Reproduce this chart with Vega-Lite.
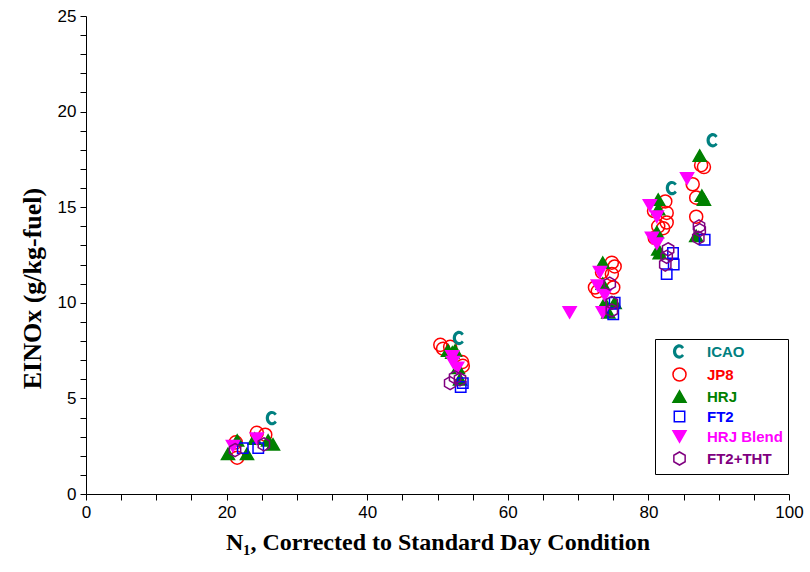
{
  "$schema": "https://vega.github.io/schema/vega-lite/v6.json",
  "width": 703,
  "height": 478,
  "autosize": {"type": "none"},
  "padding": {"left": 86, "top": 16, "right": 21, "bottom": 78},
  "background": "white",
  "config": {"view": {"stroke": null}},
  "data": {"values": [
    {"f":"JP8","x":21.3,"y":2.7},{"f":"JP8","x":21.5,"y":1.9},{"f":"JP8","x":24.3,"y":3.2},{"f":"JP8","x":25.5,"y":3.1},
    {"f":"JP8","x":50.4,"y":7.8},{"f":"JP8","x":50.8,"y":7.6},{"f":"JP8","x":51.8,"y":7.7},{"f":"JP8","x":53.5,"y":6.9},{"f":"JP8","x":53.6,"y":6.7},
    {"f":"JP8","x":74.8,"y":12.1},{"f":"JP8","x":75.2,"y":11.9},{"f":"JP8","x":73.4,"y":11.6},{"f":"JP8","x":72.4,"y":10.8},{"f":"JP8","x":72.8,"y":10.6},{"f":"JP8","x":75.0,"y":10.8},{"f":"JP8","x":74.8,"y":11.5},
    {"f":"JP8","x":82.4,"y":15.3},{"f":"JP8","x":82.6,"y":14.7},{"f":"JP8","x":82.6,"y":14.2},{"f":"JP8","x":81.4,"y":14.0},{"f":"JP8","x":82.1,"y":13.9},{"f":"JP8","x":80.9,"y":13.4},{"f":"JP8","x":80.8,"y":14.8},
    {"f":"JP8","x":87.5,"y":17.2},{"f":"JP8","x":87.9,"y":17.1},{"f":"JP8","x":86.3,"y":16.2},{"f":"JP8","x":86.8,"y":15.5},{"f":"JP8","x":86.8,"y":14.5},
    {"f":"HRJ","x":20.2,"y":2.1},{"f":"HRJ","x":22.9,"y":2.1},{"f":"HRJ","x":21.5,"y":2.8},{"f":"HRJ","x":24.0,"y":2.9},{"f":"HRJ","x":26.6,"y":2.6},{"f":"HRJ","x":25.9,"y":2.8},
    {"f":"HRJ","x":51.5,"y":7.5},{"f":"HRJ","x":52.5,"y":7.5},{"f":"HRJ","x":52.1,"y":7.4},{"f":"HRJ","x":52.9,"y":6.6},{"f":"HRJ","x":53.2,"y":6.0},
    {"f":"HRJ","x":73.5,"y":12.1},{"f":"HRJ","x":73.5,"y":11.0},{"f":"HRJ","x":73.8,"y":10.0},{"f":"HRJ","x":75.2,"y":10.0},{"f":"HRJ","x":74.3,"y":9.5},
    {"f":"HRJ","x":81.4,"y":15.4},{"f":"HRJ","x":81.4,"y":14.9},{"f":"HRJ","x":81.2,"y":13.7},{"f":"HRJ","x":81.4,"y":12.8},{"f":"HRJ","x":81.6,"y":12.6},
    {"f":"HRJ","x":87.3,"y":17.7},{"f":"HRJ","x":87.9,"y":15.4},{"f":"HRJ","x":87.6,"y":15.6},{"f":"HRJ","x":86.8,"y":13.5},
    {"f":"FT2","x":22.3,"y":2.4},{"f":"FT2","x":24.5,"y":2.4},
    {"f":"FT2","x":53.6,"y":5.8},{"f":"FT2","x":53.3,"y":5.6},
    {"f":"FT2","x":75.2,"y":10.0},{"f":"FT2","x":75.0,"y":9.4},
    {"f":"FT2","x":83.5,"y":12.6},{"f":"FT2","x":83.6,"y":12.0},{"f":"FT2","x":82.6,"y":11.5},
    {"f":"FT2","x":88.0,"y":13.3},
    {"f":"HRJ Blend","x":20.9,"y":2.5},{"f":"HRJ Blend","x":24.3,"y":2.9},
    {"f":"HRJ Blend","x":52.2,"y":6.9},{"f":"HRJ Blend","x":52.8,"y":6.6},{"f":"HRJ Blend","x":52.1,"y":7.2},
    {"f":"HRJ Blend","x":68.8,"y":9.5},{"f":"HRJ Blend","x":73.1,"y":11.6},{"f":"HRJ Blend","x":72.8,"y":10.9},{"f":"HRJ Blend","x":73.8,"y":10.4},{"f":"HRJ Blend","x":73.5,"y":9.5},
    {"f":"HRJ Blend","x":80.2,"y":15.1},{"f":"HRJ Blend","x":81.2,"y":14.5},{"f":"HRJ Blend","x":80.5,"y":13.4},{"f":"HRJ Blend","x":81.2,"y":13.1},
    {"f":"HRJ Blend","x":85.5,"y":16.5},
    {"f":"FT2+THT","x":21.2,"y":2.3},{"f":"FT2+THT","x":25.3,"y":2.6},
    {"f":"FT2+THT","x":51.8,"y":5.8},{"f":"FT2+THT","x":52.5,"y":6.1},{"f":"FT2+THT","x":53.2,"y":6.0},
    {"f":"FT2+THT","x":74.5,"y":11.0},{"f":"FT2+THT","x":74.8,"y":10.0},{"f":"FT2+THT","x":74.8,"y":9.6},
    {"f":"FT2+THT","x":82.8,"y":12.8},{"f":"FT2+THT","x":82.6,"y":12.4},{"f":"FT2+THT","x":82.4,"y":12.0},
    {"f":"FT2+THT","x":87.3,"y":13.8},{"f":"FT2+THT","x":87.1,"y":13.4},{"f":"FT2+THT","x":87.2,"y":14.0},
    {"f":"ICAO","x":26.5,"y":3.97},{"f":"ICAO","x":53.1,"y":8.16},{"f":"ICAO","x":83.4,"y":16.0},{"f":"ICAO","x":89.2,"y":18.5}
  ]},
  "mark": {"type": "point", "opacity": 1, "strokeWidth": 1.5, "size": 170},
  "encoding": {
    "x": {
      "field": "x", "type": "quantitative",
      "scale": {"domain": [0, 100], "nice": false, "zero": false},
      "axis": {
        "values": [0,5,10,15,20,25,30,35,40,45,50,55,60,65,70,75,80,85,90,95,100],
        "labelExpr": "datum.value % 20 === 0 ? datum.label : ''",
        "grid": false, "domainColor": "black", "tickColor": "black", "tickSize": 6,
        "labelFont": "Liberation Sans", "labelFontSize": 17, "labelColor": "black", "labelPadding": 4, "labelFlush": false,
        "title": "N₁, Corrected to Standard Day Condition",
        "titleFont": "Liberation Serif", "titleFontSize": 24, "titleFontWeight": "bold", "titleColor": "black", "titlePadding": 10
      }
    },
    "y": {
      "field": "y", "type": "quantitative",
      "scale": {"domain": [0, 25], "nice": false, "zero": false},
      "axis": {
        "values": [0,1,2,3,4,5,6,7,8,9,10,11,12,13,14,15,16,17,18,19,20,21,22,23,24,25],
        "labelExpr": "datum.value % 5 === 0 ? datum.label : ''",
        "grid": false, "domainColor": "black", "tickColor": "black", "tickSize": 6,
        "labelFont": "Liberation Sans", "labelFontSize": 17, "labelColor": "black", "labelPadding": 4, "labelFlush": false,
        "title": "EINOx   (g/kg-fuel)",
        "titleFont": "Liberation Serif", "titleFontSize": 26, "titleFontWeight": "bold", "titleColor": "black", "titlePadding": 12,
        "titleY": 272
      }
    },
    "shape": {
      "field": "f", "type": "nominal",
      "scale": {
        "domain": ["ICAO", "JP8", "HRJ", "FT2", "HRJ Blend", "FT2+THT"],
        "range": [
          "M0.70,-0.66A0.95,1.1 0 1 0 0.70,0.66L0.38,0.38A0.5,0.62 0 1 1 0.38,-0.38Z",
          "circle",
          "triangle-up",
          "M-0.8,-0.8H0.8V0.8H-0.8Z",
          "triangle-down",
          "M0,-1L0.866,-0.5L0.866,0.5L0,1L-0.866,0.5L-0.866,-0.5Z"
        ]
      },
      "legend": {
        "title": null,
        "orient": "none", "legendX": 569, "legendY": 323,
        "strokeColor": "black", "padding": 5, "fillColor": "white",
        "symbolOffset": 12, "labelOffset": 20, "rowPadding": 2,
        "symbolSize": 170, "symbolStrokeWidth": 1.5,
        "labelFont": "Liberation Sans", "labelFontSize": 15, "labelFontWeight": "bold",
        "labelColor": {"expr": "({'ICAO':'#008080','JP8':'#ff0000','HRJ':'#008000','FT2':'#0000ff','HRJ Blend':'#ff00ff','FT2+THT':'#800080'})[datum.value]"}
      }
    },
    "fill": {
      "field": "f", "type": "nominal",
      "scale": {
        "domain": ["ICAO", "JP8", "HRJ", "FT2", "HRJ Blend", "FT2+THT"],
        "range": ["#008080", "transparent", "#008000", "transparent", "#ff00ff", "transparent"]
      }
    },
    "stroke": {
      "field": "f", "type": "nominal",
      "scale": {
        "domain": ["ICAO", "JP8", "HRJ", "FT2", "HRJ Blend", "FT2+THT"],
        "range": ["transparent", "#ff0000", "#008000", "#0000ff", "#ff00ff", "#800080"]
      }
    }
  }
}
